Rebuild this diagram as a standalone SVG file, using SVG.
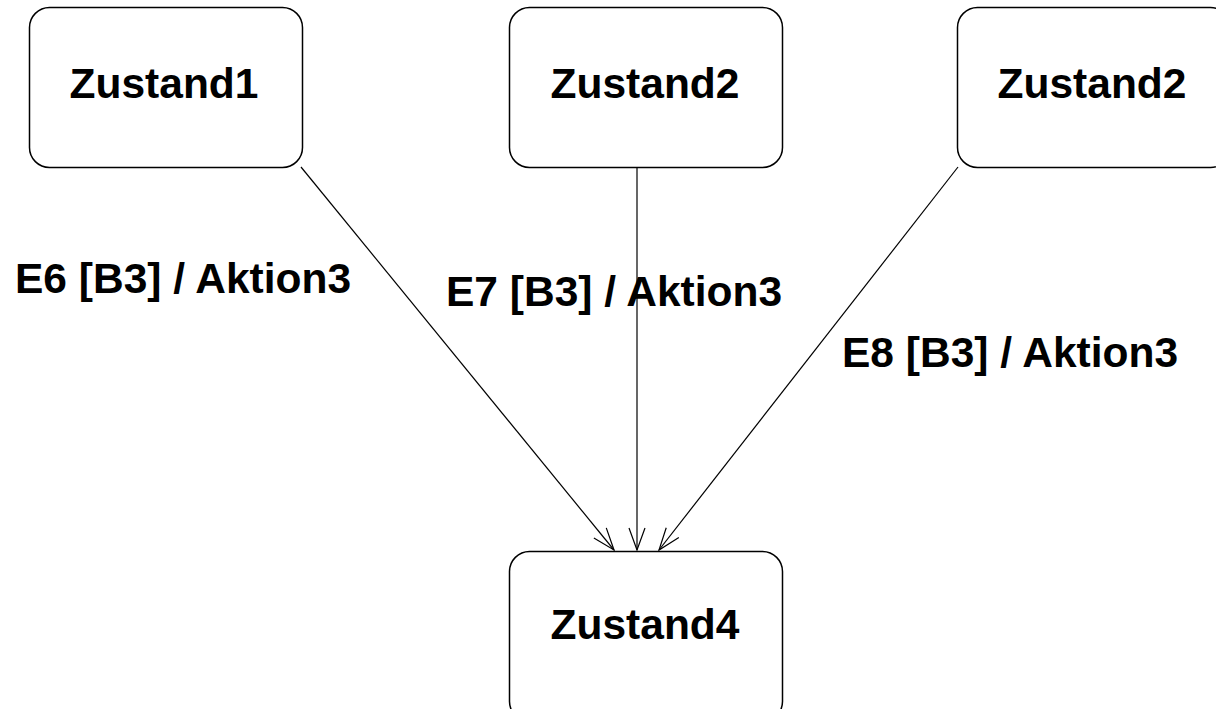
<svg xmlns="http://www.w3.org/2000/svg" width="1216" height="709" viewBox="0 0 1216 709">
<defs>
<style>
.box{fill:#fff;stroke:#000;stroke-width:1.5}
.lbl{font-family:"Liberation Sans",Arial,sans-serif;font-weight:bold;font-size:42.5px;fill:#000}
.edge{stroke:#000;stroke-width:1.2;fill:none;marker-end:url(#arr)}
</style>
<marker id="arr" viewBox="0 0 24 18" refX="23" refY="9" markerWidth="24" markerHeight="18" markerUnits="userSpaceOnUse" orient="auto">
<path d="M1,1 L23,9 L1,17" fill="none" stroke="#000" stroke-width="1.2"/>
</marker>
</defs>
<rect width="1216" height="709" fill="#fff"/>
<g id="zustand1">
<rect class="box" x="29.5" y="7.5" width="273" height="160" rx="20"/>
<text class="lbl" x="164" y="98" text-anchor="middle">Zustand1</text>
</g>
<g id="zustand2a">
<rect class="box" x="509.5" y="7.5" width="273" height="160" rx="20"/>
<text class="lbl" x="645" y="98" text-anchor="middle">Zustand2</text>
</g>
<g id="zustand2b">
<rect class="box" x="957.5" y="7.5" width="273" height="160" rx="20"/>
<text class="lbl" x="1092" y="98" text-anchor="middle">Zustand2</text>
</g>
<g id="zustand4">
<rect class="box" x="509.5" y="551.5" width="273" height="170" rx="20"/>
<text class="lbl" x="645" y="639" text-anchor="middle">Zustand4</text>
</g>
<g id="connectors">
<line class="edge" x1="301" y1="167" x2="614" y2="550"/>
<line class="edge" x1="637" y1="167" x2="637" y2="550"/>
<line class="edge" x1="958" y1="167" x2="659" y2="550"/>
<text class="lbl" x="15" y="293">E6 [B3] / Aktion3</text>
<text class="lbl" x="446" y="306">E7 [B3] / Aktion3</text>
<text class="lbl" x="842" y="367">E8 [B3] / Aktion3</text>
</g>
</svg>
